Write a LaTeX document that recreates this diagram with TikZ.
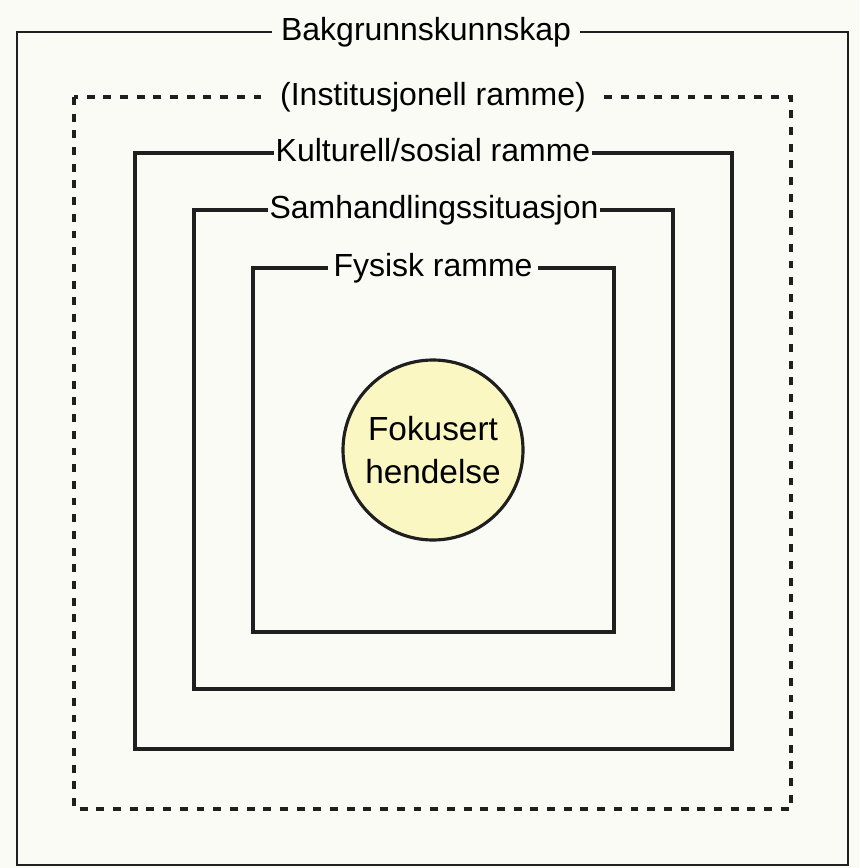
\documentclass[tikz,border=0pt]{standalone}
\usepackage{fontspec}
\setmainfont{Liberation Sans}
\usepackage{tikz}
\usetikzlibrary{positioning}
\definecolor{paper}{RGB}{251,251,246}
\definecolor{focusfill}{RGB}{250,247,194}

\begin{document}
\begin{tikzpicture}[x=0.02cm, y=-0.02cm,
    frame/.style={draw=black!88, line width=2pt},
    dashframe/.style={draw=black!88, line width=2.4pt, dash pattern=on 4.5pt off 5pt},
    framelabel/.style={fill=paper, inner xsep=4pt, inner ysep=1pt, anchor=mid, yshift=-2pt,
      font=\fontsize{18.2}{22}\selectfont}]
    % paper and picture size
    \fill[paper] (0,0) rectangle (859,868);
    \useasboundingbox (0,0) rectangle (859,868);

    % Outer frame: background knowledge
    \draw[frame, line width=1.6pt] (17,32) rectangle (848,865);
    \node[framelabel, inner xsep=5pt] (bakgrunn) at (426,32) {Bakgrunnskunnskap};

    % Dashed frame (institutional)
    \draw[dashframe] (74,97) rectangle (791,809);
    \node[framelabel, inner xsep=7pt] (institusjon) at (433,97) {(Institusjonell ramme)};

    % Nested solid frames
    \draw[frame] (135,153) rectangle (732,749);
    \node[framelabel, inner xsep=1pt] (kultur) at (433,153) {Kulturell/sosial ramme};

    \draw[frame] (194,210) rectangle (673,689);
    \node[framelabel, inner xsep=1pt] (samhandling) at (434,210) {Samhandlingssituasjon};

    \draw[frame] (253,268) rectangle (614,632);
    \node[framelabel, inner xsep=3pt] (fysisk) at (433,268) {Fysisk ramme};

    % Focused event in the middle
    \node[circle, draw=black!88, line width=1.8pt, fill=focusfill, minimum size=180*0.02cm,
      align=center, font=\fontsize{19}{24}\selectfont] (fokus) at (433,450) {Fokusert\\hendelse};
\end{tikzpicture}
\end{document}
